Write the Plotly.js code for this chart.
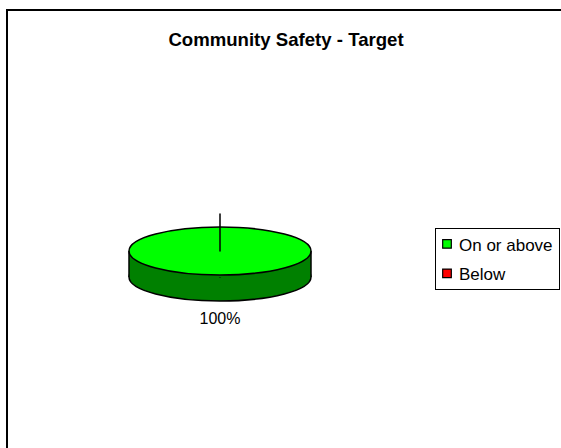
<!DOCTYPE html>
<html><head><meta charset="utf-8">
<script src="https://cdn.plot.ly/plotly-3.0.1.min.js"></script>
<style>
html,body{margin:0;padding:0;background:#fff;overflow:hidden;}
#frame{position:absolute;left:6px;top:9px;width:620px;height:520px;border:2px solid #000;box-sizing:border-box;}
#chart{position:absolute;left:0;top:0;width:561px;height:448px;}
</style></head><body>
<div id="frame"></div>
<div id="chart"></div>
<script>
// ---- data ----
var chartTitle = 'Community Safety - Target';
var labels = ['On or above', 'Below'];
var values = [100, 0];
var topColors = ['#00FF00', '#FF0000'];
var sideColors = ['#008000', '#008000'];

// ---- style constants ----
var K = 24 / 91;      // vertical squash of the pie (tilt)
var K2 = 37 / 91;     // squash for the slice boundary line
var D = 26;           // thickness of the 3D pie
var LABEL_GAP = 17;   // label centre below pie bottom
var LW = 1.5;
var FONT = 'Liberation Sans, Arial, sans-serif';

var domain = {x: [129 / 561, 311 / 561], y: [106 / 448, 288 / 448]};

var side = {
  type: 'pie', labels: labels, values: values, sort: false,
  marker: {colors: sideColors, line: {color: '#000', width: LW}},
  textinfo: 'none', showlegend: false, hoverinfo: 'skip', domain: domain
};
var topT = {
  type: 'pie', labels: labels, values: values, sort: false,
  marker: {colors: topColors, line: {color: '#000', width: LW}},
  texttemplate: values.map(function (v) { return v > 0 ? '%{percent:.0%}' : ' '; }),
  textposition: 'inside', insidetextorientation: 'horizontal',
  insidetextfont: {family: FONT, size: 16, color: '#000'},
  hoverinfo: 'skip', domain: domain
};

var layout = {
  width: 561, height: 448,
  margin: {l: 0, r: 0, t: 0, b: 0},
  paper_bgcolor: 'rgba(0,0,0,0)', plot_bgcolor: 'rgba(0,0,0,0)',
  font: {family: FONT, size: 16, color: '#000'},
  title: {text: chartTitle, font: {family: FONT, size: 18.6, weight: 'bold', color: '#000'},
          x: 286 / 561, xanchor: 'center', y: 1 - 39 / 448, yanchor: 'middle'},
  showlegend: true,
  legend: {x: 559 / 561, xanchor: 'right', y: 1 - 228 / 448, yanchor: 'top',
           bordercolor: '#000', borderwidth: 1, bgcolor: '#fff',
           font: {family: FONT, size: 17, color: '#000'}}
};

function make3D(gd) {
  var ns = 'http://www.w3.org/2000/svg';
  var traces = gd.querySelectorAll('.pielayer .trace');
  if (traces.length < 2) return;
  var bot = traces[0], top = traces[1];
  var full = null, fb = null;
  top.querySelectorAll('path.surface').forEach(function (p) {
    var b = p.getBBox();
    if (!fb || b.width > fb.width) { fb = b; full = p; }
  });
  var cx = fb.x + fb.width / 2, cy = fb.y + fb.height / 2, r = fb.width / 2;
  function squash(p, k, dy) {
    p.setAttribute('transform', 'translate(0,' + (cy * (1 - k) + dy) + ') scale(1,' + k + ')');
    p.style.vectorEffect = 'non-scaling-stroke';
  }
  top.querySelectorAll('path.surface').forEach(function (p) { squash(p, p === full ? K : K2, 0); });
  bot.querySelectorAll('path.surface').forEach(function (p) { squash(p, K, D); });
  var rect = document.createElementNS(ns, 'rect');
  rect.setAttribute('x', cx - r); rect.setAttribute('y', cy);
  rect.setAttribute('width', 2 * r); rect.setAttribute('height', D);
  rect.setAttribute('fill', sideColors[0]);
  bot.appendChild(rect);
  var edges = document.createElementNS(ns, 'path');
  edges.setAttribute('d', 'M' + (cx - r) + ',' + cy + 'V' + (cy + D) + 'M' + (cx + r) + ',' + cy + 'V' + (cy + D));
  edges.setAttribute('stroke', '#000'); edges.setAttribute('stroke-width', LW); edges.setAttribute('fill', 'none');
  bot.appendChild(edges);
  // move the percentage label below the pie (drawn on top of everything)
  var target = cy + r * K + D + LABEL_GAP;
  var layer = top.parentNode;
  top.querySelectorAll('text').forEach(function (t) {
    var b = t.getBoundingClientRect();
    if (!b.height) return;
    var dx = cx - (b.left + b.width / 2);
    var dy = target - (b.top + b.height / 2);
    var g = document.createElementNS(ns, 'g');
    g.setAttribute('transform', 'translate(' + dx + ',' + dy + ')');
    layer.appendChild(g);
    g.appendChild(t);
  });
}

function tuneLegend(gd) {
  var lg = gd.querySelector('g.legend');
  if (!lg) return;
  var bg = lg.querySelector('rect.bg');
  var bb = bg.getBoundingClientRect();
  var box = {left: 435, top: 228, width: 124, height: 61};
  lg.setAttribute('transform', 'translate(' + (box.left - bb.left) + ',' + (box.top - bb.top) + ') ' + (lg.getAttribute('transform') || ''));
  bg.setAttribute('width', box.width);
  bg.setAttribute('height', box.height);
  var rowsY = [245, 274.5];
  var symX = 447, textX = 459;
  lg.querySelectorAll('g.traces').forEach(function (it, i) {
    var t = it.querySelector('text.legendtext');
    if (t) {
      var tb = t.getBoundingClientRect();
      var dy = (rowsY[i] || 0) - (tb.top + tb.height / 2);
      it.setAttribute('transform', 'translate(0,' + dy + ') ' + (it.getAttribute('transform') || ''));
      tb = t.getBoundingClientRect();
      t.setAttribute('x', parseFloat(t.getAttribute('x') || 0) + (textX - tb.left));
    }
    it.querySelectorAll('path.legendpie').forEach(function (p) {
      p.setAttribute('transform', 'translate(0,0)');
      var pb = p.getBoundingClientRect();
      var cxs = pb.left + pb.width / 2;
      p.setAttribute('transform', 'translate(' + (symX - cxs) + ',0) scale(0.72)');
      p.style.vectorEffect = 'non-scaling-stroke';
      p.style.strokeWidth = '1.2px';
    });
  });
}

Plotly.newPlot('chart', [side, topT], layout, {staticPlot: true}).then(function (gd) {
  try { make3D(gd); } catch (e) { console.error(e); }
  try { tuneLegend(gd); } catch (e) { console.error(e); }
});
</script>
</body></html>
